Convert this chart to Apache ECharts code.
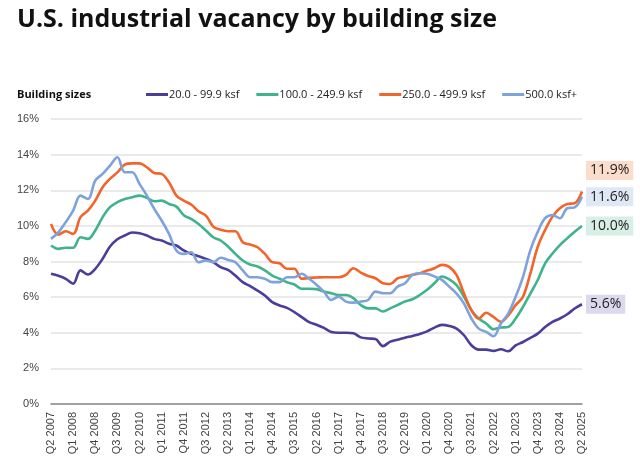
<!DOCTYPE html>
<html>
<head>
<meta charset="utf-8">
<script src="https://cdn.jsdelivr.net/npm/echarts@6/dist/echarts.min.js"></script>
<style>html,body{margin:0;padding:0;background:#fff}#c{width:640px;height:470px}</style>
</head>
<body>
<div id="c"></div>
<script>
// Quarterly categories Q2 2007 .. Q2 2025
const categories = [];
(function(){
  for (let y = 2007; y <= 2025; y++) {
    for (let q = 1; q <= 4; q++) {
      if (y === 2007 && q < 2) continue;
      if (y === 2025 && q > 2) continue;
      categories.push('Q' + q + ' ' + y);
    }
  }
})();

const seriesNames = ['20.0 - 99.9 ksf', '100.0 - 249.9 ksf', '250.0 - 499.9 ksf', '500.0 ksf+'];

const small = [7.31,7.2,7.03,6.75,7.5,7.27,7.59,8.15,8.84,9.25,9.46,9.63,9.59,9.46,9.27,9.18,9.0,8.9,8.62,8.43,8.30,8.15,7.96,7.68,7.53,7.21,6.84,6.62,6.37,6.09,5.72,5.53,5.40,5.16,4.88,4.60,4.45,4.27,4.04,4.0,4.0,3.97,3.74,3.68,3.65,3.25,3.50,3.61,3.72,3.82,3.93,4.08,4.29,4.44,4.38,4.23,3.86,3.3,3.05,3.05,2.98,3.07,2.96,3.29,3.48,3.71,3.95,4.32,4.61,4.80,5.04,5.36,5.60];

const mid = [8.90,8.71,8.77,8.77,9.36,9.27,9.74,10.49,11.05,11.33,11.51,11.61,11.70,11.57,11.38,11.42,11.23,11.08,10.6,10.39,10.11,9.74,9.36,9.18,8.84,8.43,8.06,7.83,7.72,7.50,7.21,7.03,6.84,6.71,6.47,6.47,6.45,6.31,6.22,6.12,6.12,5.94,5.56,5.37,5.37,5.19,5.37,5.56,5.75,5.88,6.12,6.41,6.78,7.16,7.0,6.67,6.02,5.27,4.80,4.52,4.20,4.29,4.33,4.80,5.45,6.20,6.96,7.89,8.45,8.92,9.30,9.67,9.99];

const large = [10.11,9.51,9.70,9.55,10.49,10.86,11.42,12.17,12.64,13.0,13.44,13.51,13.51,13.29,12.97,12.92,12.45,11.70,11.42,11.2,10.82,10.58,9.96,9.78,9.70,9.70,9.08,8.95,8.80,8.43,7.96,7.9,7.59,7.59,7.03,7.08,7.1,7.12,7.12,7.12,7.25,7.62,7.38,7.19,7.06,6.78,6.74,7.06,7.16,7.25,7.34,7.49,7.62,7.81,7.7,7.23,6.2,5.27,4.8,5.12,4.89,4.61,4.98,5.55,6.02,7.33,8.83,9.77,10.52,10.99,11.23,11.27,11.93];

const xlarge = [9.27,9.64,10.21,10.86,11.70,11.51,12.54,12.92,13.38,13.85,13.01,13.01,12.36,11.70,10.95,10.30,9.55,8.62,8.43,8.52,7.96,8.06,7.96,8.21,8.09,7.96,7.50,7.12,7.12,7.03,6.84,6.84,7.12,7.12,7.31,7.03,6.7,6.31,5.84,6.03,5.75,5.69,5.75,5.84,6.31,6.22,6.22,6.59,6.78,7.25,7.34,7.31,7.16,6.97,6.59,6.2,5.64,4.8,4.23,4.05,3.80,4.52,5.08,6.02,7.14,8.64,9.67,10.43,10.61,10.43,10.99,11.04,11.64];

const endValues = ['5.6%', '10.0%', '11.9%', '11.6%'];

const colors = ['#4a3e9c', '#3fb48b', '#f2652a', '#7ea2da'];
const labelBg = ['#dcd9ef', '#d8efe5', '#fcdccb', '#e0e8f6'];
const labelOffsetY = [0, 0, -21, 0];
const dataSets = [small, mid, large, xlarge];

const chart = echarts.init(document.getElementById('c'), null, {renderer: 'canvas'});

const series = dataSets.map((d, i) => ({
  name: seriesNames[i],
  type: 'line',
  data: d,
  showSymbol: false,
  smooth: 0.35,
  lineStyle: {width: 2.6, color: colors[i]},
  itemStyle: {color: colors[i]},
  endLabel: {
    show: true,
    formatter: endValues[i],
    color: '#222',
    fontSize: 14,
    fontFamily: 'Open Sans',
    backgroundColor: labelBg[i],
    padding: [3, 4, 2, 4],
    distance: 4,
    offset: [0, labelOffsetY[i]]
  }
}));

chart.setOption({
  animation: false,
  title: [
    {text: 'U.S. industrial vacancy by building size', left: 12, top: 2,
     textStyle: {fontSize: 25, fontWeight: 'bold', color: '#111', fontFamily: 'Open Sans'}},
    {text: 'Building sizes', left: 12, top: 84,
     textStyle: {fontSize: 11, fontWeight: 'bold', color: '#111', fontFamily: 'Open Sans'}}
  ],
  legend: {
    left: 141, top: 84,
    icon: 'rect', itemWidth: 22, itemHeight: 3, itemGap: 17,
    textStyle: {fontSize: 11, color: '#222', fontFamily: 'Open Sans', padding: [0,0,0,-4]},
    data: seriesNames
  },
  grid: {left: 51, right: 58, top: 119, bottom: 66},
  xAxis: {
    type: 'category',
    data: categories,
    boundaryGap: false,
    axisLine: {lineStyle: {color: '#888', width: 1.5}},
    axisTick: {show: false},
    axisLabel: {rotate: 90, interval: 2, fontSize: 11, color: '#444', fontFamily: 'Liberation Sans', margin: 8},
    splitLine: {show: false}
  },
  yAxis: {
    type: 'value',
    min: 0, max: 16, interval: 2,
    axisLine: {show: false},
    axisTick: {show: false},
    axisLabel: {formatter: '{value}%', fontSize: 11, color: '#444', fontFamily: 'Liberation Sans', margin: 12},
    splitLine: {lineStyle: {color: '#e3e3e3', width: 1.5}}
  },
  series: series
});
</script>
</body>
</html>
